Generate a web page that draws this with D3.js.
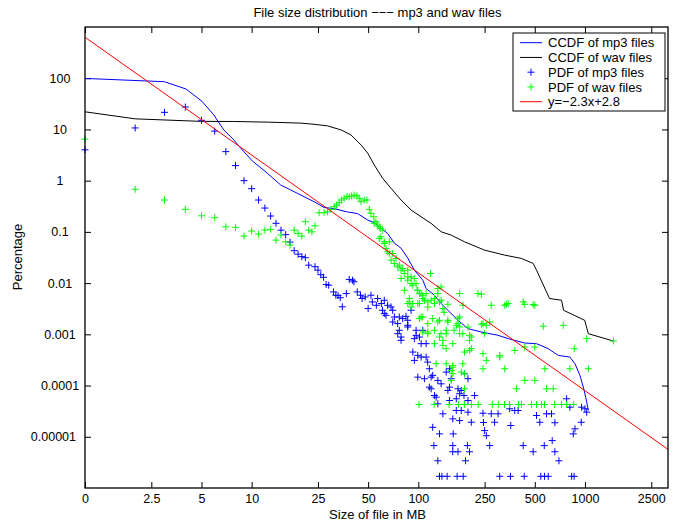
<!DOCTYPE html>
<html><head><meta charset="utf-8">
<script src="https://cdn.jsdelivr.net/npm/d3@7"></script>
<style>
body{margin:0;background:#fff}
svg text{font-family:"Liberation Sans",Arial,Helvetica,sans-serif;fill:#000}
</style>
</head><body>
<svg id="c" width="676" height="522"></svg>
<script>
// ---------- data ----------
const titleText = "File size distribution −−− mp3 and wav files";
const xLabel = "Size of file in MB";
const yLabel = "Percentage";
const xTickValues = [1, 2.5, 5, 10, 25, 50, 100, 250, 500, 1000, 2500];
const xTickLabels = ["0", "2.5", "5", "10", "25", "50", "100", "250", "500", "1000", "2500"];
const yTickValues = [100, 10, 1, 0.1, 0.01, 0.001, 0.0001, 0.00001];
const yTickLabels = ["100", "10", "1", "0.1", "0.01", "0.001", "0.0001", "0.00001"];
const legendLabels = ["CCDF of mp3 files", "CCDF of wav files", "PDF of mp3 files", "PDF of wav files", "y=−2.3x+2.8"];
const fitSlope = -2.3, fitIntercept = 2.8;

// CCDF of mp3 files [MB, %]
const ccdfMp3 = [[1,99.1],[3,85.5],[4.04,61.5],[5.04,35.2],[5.92,19.3],[6.8,9.82],[7.81,6.26],[8.78,3.99],[10.09,2.43],[12.41,1.4],
[14.93,0.824],[18.8,0.567],[23.7,0.388],[27.2,0.3],[31.26,0.284],[37.6,0.245],[43.2,0.228],[49.7,0.17],[54.4,0.152],[59.7,0.118],
[65.5,0.093],[71.8,0.0604],[78.8,0.048],[86.5,0.0307],[94.7,0.0179],[106.4,0.0114],[111.4,0.00784],[125,0.0058],[137.2,0.00398],[150.5,0.00295],
[173,0.00188],[198.6,0.00129],[238.9,0.00111],[301,0.000957],[346,0.000824],[435,0.000676],[512,0.000658],[602,0.000525],[692,0.000388],[812,0.00036],
[871,0.000267],[933,0.000158],[978,0.0000931],[1010,0.0000593],[1048,0.0000326]];

// CCDF of wav files [MB, %]
const ccdfWav = [[1,22.1],[2,16.1],[4.92,14.4],[7.81,14.3],[12.41,13.9],[19.7,13.3],[23.7,12.6],[28.5,11.75],[34.3,9.82],[39.4,7.84],
[45.3,5.0],[49.7,3.44],[54.4,2.03],[61.1,1.11],[68.6,0.71],[78.8,0.419],[90.5,0.267],[104,0.197],[119.4,0.1466],[137.2,0.1004],
[157.6,0.0865],[189.5,0.064],[250,0.044],[330,0.0352],[416,0.0303],[489,0.0242],[512,0.0179],[613,0.005],[724,0.00463],[744,0.00295],
[996,0.00188],[1048,0.00103],[1482,0.00074]];

// PDF of mp3 files [MB, %]
const pdfMp3 = [[1,4.0],[2,10.7],[3,21.6],[4,27.4],[5,15.1],[6,9.27],[7,3.69],[8,1.97],[9,1.0],[10,0.697],
[11,0.419],[12,0.292],[13,0.204],[14,0.147],[15,0.108],[16,0.0885],[17,0.0631],[18,0.043],[19,0.0368],[20,0.0329],
[21,0.0314],[22,0.0224],[24,0.0209],[25,0.0179],[26,0.0146],[27,0.013],[28,0.0094],[29,0.0091],[31,0.00673],[32,0.0058],
[33,0.0057],[34,0.00518],[35,0.00345],[37,0.00625],[38.5,0.0118],[40.3,0.0114],[41.1,0.0106],[43,0.00673],[45,0.0058],[46,0.005],
[48,0.00537],[50,0.00318],[52,0.0058],[53,0.00429],[56,0.00369],[57,0.005],[60,0.00399],[61,0.00295],[62.5,0.00463],[64,0.00235],
[65.5,0.00369],[68.6,0.00342],[70.2,0.00295],[71.9,0.00218],[75.2,0.00162],[76.9,0.00218],[80.6,0.00203],[84.4,0.00225],[86.4,0.00188],[90.5,0.00295],
[86.4,0.00139],[76.9,0.0012],[78.8,0.000885],[94.7,0.000824],[97,0.000955],[106.4,0.0012],[104,0.000658],[111.4,0.000658],[92.7,0.000451],[99.3,0.000388],
[104,0.00036],[111.4,0.00036],[94.7,0.00031],[113.8,0.000287],[116.5,0.000213],[122,0.000158],[119.4,0.000146],[99.3,0.000146],[116.5,0.0000931],[131,0.000126],
[137,0.000108],[147,0.000183],[154,0.000213],[157.6,0.000136],[154,0.0000931],[173,0.0000865],[177,0.0000691],[198.6,0.000136],[189.5,0.00017],[217.7,0.000064],
[154,0.0000511],[131,0.000044],[125,0.000064],[108.8,0.000136],[119.4,0.0000865],[128,0.0000593],[150.5,0.0000802],[181,0.0000802],[188,0.000064],[198.6,0.0000511],
[169,0.0000552],[101.6,0.000885],[97,0.0012],[78.8,0.000763],[75.2,0.00103],[70.2,0.00174],[62.5,0.00254],[86.4,0.0015],
[169,0.0000326],[181,0.0000326],[353.6,0.0000352],[379,0.0000326],[776,0.0000552],[1000,0.0000352],[1024,0.0000302],
[140.4,0.0000281],[161,0.0000224],[177,0.0000207],[198.6,0.0000302],[244.5,0.0000288],[274,0.0000281],[301,0.0000281],[397,0.0000326],[512,0.000026],[588,0.0000281],
[630,0.0000281],[812,0.0000378],[955,0.0000378],[208,0.0000192],[246,0.000019],[287,0.0000192],[358.6,0.0000166],[536,0.0000192],[660,0.0000188],[950,0.0000192],
[122,0.0000153],[871,0.0000143],[250,0.0000132],[134,0.0000114],[162,0.0000114],[256,0.0000105],[851,0.0000114],
[124,0.00000673],[161,0.00000673],[197,0.00000673],[268,0.00000673],[426,0.00000673],[570,0.00000673],[636,0.00000843],
[161,0.0000051],[173,0.0000051],[203,0.0000051],[489,0.0000051],[660,0.0000051],
[131,0.0000034],[192,0.0000034],[698,0.0000034],
[134,0.00000169],[138.5,0.00000169],[149,0.00000169],[171,0.00000169],[186,0.00000169],[308,0.00000169],[357,0.00000169],[432,0.00000169],[543,0.00000169],[572,0.00000169],
[602,0.00000169],[832,0.00000169],[861,0.00000169]];

// PDF of wav files [MB, %]
const pdfWav = [[1,6.46],[2,0.679],[3,0.419],[4,0.275],[5,0.206],[6,0.189],[7,0.126],[8,0.1225],[9,0.0828],[10,0.104],
[11,0.0906],[12,0.108],[13,0.112],[14,0.0691],[15,0.0865],[16,0.064],[17,0.0552],[18,0.108],[19,0.0935],[20,0.0828],
[21,0.158],[22,0.108],[23,0.1],[24,0.1316],
[25.4,0.2366],[27.2,0.2366],[28.5,0.247],[29.9,0.275],[31.3,0.31],[32.4,0.3345],[33.5,0.371],[34.6,0.419],[35.9,0.453],[37.3,0.486],
[38.5,0.486],[39.8,0.502],[41.2,0.525],[42.8,0.502],[44.2,0.453],[45.3,0.388],[47.4,0.419],[49.2,0.419],[50.8,0.275],[52,0.23],
[54,0.1975],[55.7,0.158],[57,0.136],[59.1,0.117],[59.7,0.0802],[62.5,0.064],[64,0.0475],[67,0.0379],[68.6,0.0281],[71.8,0.0242],
[75.3,0.0207],[78.8,0.0179],[82.5,0.0154],[86.5,0.0132],
[54.4,0.1466],[58.3,0.126],[61.1,0.1084],[58.3,0.0746],[62.5,0.0596],[67,0.064],[65.5,0.0408],[70.2,0.0379],[73.5,0.0303],[77,0.0224],
[80.7,0.0193],[78.8,0.0123],[86.5,0.0179],[90.5,0.0132],[92.7,0.0091],[97,0.0098],[99.3,0.00726],[104,0.00625],[88.4,0.005],[106.4,0.005],
[111.4,0.00625],[118.3,0.0154],[119.4,0.00463],[125,0.005],[131,0.00625],[134,0.00429],[114,0.00342],[99.3,0.00399],[92.7,0.00399],[106.4,0.00218],
[122,0.00203],[131,0.00174],[150.5,0.00174],[177,0.00625],[185.3,0.00369],[228,0.00625],[239,0.00607],[274,0.00369],[330,0.00369],[346,0.00399],
[426,0.00429],[489,0.00381],[244.5,0.00162],[256,0.0015],[173,0.00162],[177,0.00139],[114,0.00103],[137,0.00103],[198.6,0.00139],[208,0.000885],
[250,0.00103],[101.6,0.00203],[137,0.00843],
[82.5,0.00726],[86.5,0.0114],[90.5,0.0098],[94.7,0.0123],[98.5,0.00726],[101.6,0.00625],[106.4,0.0058],[108.8,0.00463],[114,0.00429],[88.4,0.00429],
[90.5,0.00342],[131,0.00784],[137,0.00463],[104,0.00218],[114,0.00162],[140.4,0.000763],[125,0.0012],[134,0.000885],[147,0.000525],[106.4,0.00111],
[150.5,0.00188],[147,0.0012],[164,0.0012],[185,0.00103],[208,0.000525],[185,0.000267],[161,0.000229],[161,0.00017],[189.5,0.00017],[203,0.000763],
[143,0.00269],
[86.5,0.00399],[101.6,0.00399],[125,0.00399],[140.4,0.00318],[150.5,0.00386],[338,0.00386],[435,0.00386],[500,0.00369],[134,0.00188],[173,0.00203],
[177,0.00218],[239,0.00157],[268,0.00174],[562,0.00144],[741,0.0015],[114,0.00111],[147,0.00103],[177,0.00103],[203,0.000955],[169,0.0015],
[125,0.000658],[140.4,0.00061],[161,0.000658],[189.5,0.000451],[203,0.000486],[244.5,0.000419],[308,0.000388],[379,0.000486],[435,0.000564],[500,0.000564],
[863,0.000525],[1024,0.000824],[1483,0.00074],[128,0.000267],[147,0.000267],[161,0.000247],[244.5,0.000213],[330,0.000213],[256,0.00031],[308,0.00036],
[575,0.000213],[812,0.000213],[1048,0.000213],[157.6,0.000197],[181,0.000183],[157.6,0.000126],[435,0.000126],[500,0.000126],[388,0.0000865],[588,0.0000865],
[645,0.0000865],[189.5,0.0000865],
[101,0.0000427],[124.5,0.0000427],[153,0.0000427],[174,0.0000427],[189,0.0000427],[208,0.0000427],[229,0.0000427],[278,0.0000427],[302,0.0000427],[329,0.0000427],
[352,0.0000427],[399,0.0000427],[416,0.0000427],[478,0.0000427],[512,0.0000427],[549,0.0000427],[572,0.0000427],[657,0.0000427],[724,0.0000427],[776,0.0000427],
[855,0.0000427]];

// ---------- drawing ----------
const m = {l:85, r:668, t:27, b:488};
const x = d3.scaleLog().domain([1, 3150]).range([m.l, m.r]);
const y = d3.scaleLog().domain([1e-6, 1e3]).range([m.b, m.t]);
const svg = d3.select("#c");
const BLUE = "#0000ff", GREEN = "#00ff00", RED = "#ff0000", BLACK = "#000000";
const plus = "M-3.5,0H3.5M0,-3.5V3.5";

svg.append("rect").attr("width",676).attr("height",522).attr("fill","#fff");

// title & labels
svg.append("text").attr("x",377.5).attr("y",17).attr("text-anchor","middle")
  .attr("font-size",13).text(titleText);
svg.append("text").attr("x",377.5).attr("y",518.5).attr("text-anchor","middle")
  .attr("font-size",13).text(xLabel);
svg.append("text").attr("transform","translate(21.5,257) rotate(-90)").attr("text-anchor","middle")
  .attr("font-size",13).text(yLabel);

// axes
function styleAxis(g){
  g.attr("font-family",null).attr("font-size",null);
  g.select(".domain").remove();
  g.selectAll(".tick line").attr("stroke",BLACK).attr("stroke-width",1);
}
const gB = svg.append("g").attr("transform",`translate(0,${m.b})`)
  .call(d3.axisBottom(x).tickValues(xTickValues).tickFormat((d,i)=>xTickLabels[i]).tickSize(-6).tickPadding(6.5));
styleAxis(gB);
gB.selectAll("text").attr("font-size",12.5);
const gT = svg.append("g").attr("transform",`translate(0,${m.t})`)
  .call(d3.axisTop(x).tickValues(xTickValues).tickFormat("").tickSize(-6));
styleAxis(gT);
const gL = svg.append("g").attr("transform",`translate(${m.l},0)`)
  .call(d3.axisLeft(y).tickValues(yTickValues).tickFormat((d,i)=>yTickLabels[i]).tickSize(-6));
styleAxis(gL);
gL.selectAll("text").attr("font-size",12.5).attr("x",-25).attr("text-anchor","middle");
gL.selectAll("text").filter(d=>d===0.00001).attr("x",-9).attr("text-anchor","end");
const gR = svg.append("g").attr("transform",`translate(${m.r},0)`)
  .call(d3.axisRight(y).tickValues(yTickValues).tickFormat("").tickSize(-6));
styleAxis(gR);

// data layer
const line = d3.line().x(d=>x(d[0])).y(d=>y(d[1]));
const plot = svg.append("g");
plot.append("path").datum(ccdfMp3).attr("d",line).attr("fill","none").attr("stroke",BLUE).attr("stroke-width",1);
plot.append("path").datum(ccdfWav).attr("d",line).attr("fill","none").attr("stroke",BLACK).attr("stroke-width",1);
plot.append("g").selectAll("path").data(pdfMp3).join("path")
  .attr("transform",d=>`translate(${x(d[0])},${y(d[1])})`).attr("d",plus)
  .attr("fill","none").attr("stroke",BLUE).attr("stroke-width",1);
plot.append("g").selectAll("path").data(pdfWav).join("path")
  .attr("transform",d=>`translate(${x(d[0])},${y(d[1])})`).attr("d",plus)
  .attr("fill","none").attr("stroke",GREEN).attr("stroke-width",1);
const [x0,x1] = x.domain();
const fitPts = [x0,x1].map(v=>[v, Math.pow(10, fitIntercept + fitSlope*Math.log10(v))]);
plot.append("path").datum(fitPts).attr("d",line).attr("fill","none").attr("stroke",RED).attr("stroke-width",1);

// frame
svg.append("rect").attr("x",m.l).attr("y",m.t).attr("width",m.r-m.l).attr("height",m.b-m.t)
  .attr("fill","none").attr("stroke",BLACK).attr("stroke-width",1.3);

// legend
const lg = svg.append("g");
lg.append("rect").attr("x",513).attr("y",33).attr("width",152).attr("height",78)
  .attr("fill","#fff").attr("stroke",BLACK).attr("stroke-width",1);
const legendStyle = [
  {type:"line", color:BLUE},{type:"line", color:BLACK},
  {type:"mark", color:BLUE},{type:"mark", color:GREEN},{type:"line", color:RED}];
legendLabels.forEach((lab,i)=>{
  const cy = 42.7 + i*14.75;
  const st = legendStyle[i];
  if(st.type==="line"){
    lg.append("line").attr("x1",520).attr("x2",542).attr("y1",cy).attr("y2",cy)
      .attr("stroke",st.color).attr("stroke-width",1);
  } else {
    lg.append("path").attr("transform",`translate(531,${cy})`).attr("d",plus)
      .attr("fill","none").attr("stroke",st.color).attr("stroke-width",1);
  }
  lg.append("text").attr("x",548).attr("y",cy+4.6).attr("font-size",13).text(lab);
});
</script>
</body></html>
